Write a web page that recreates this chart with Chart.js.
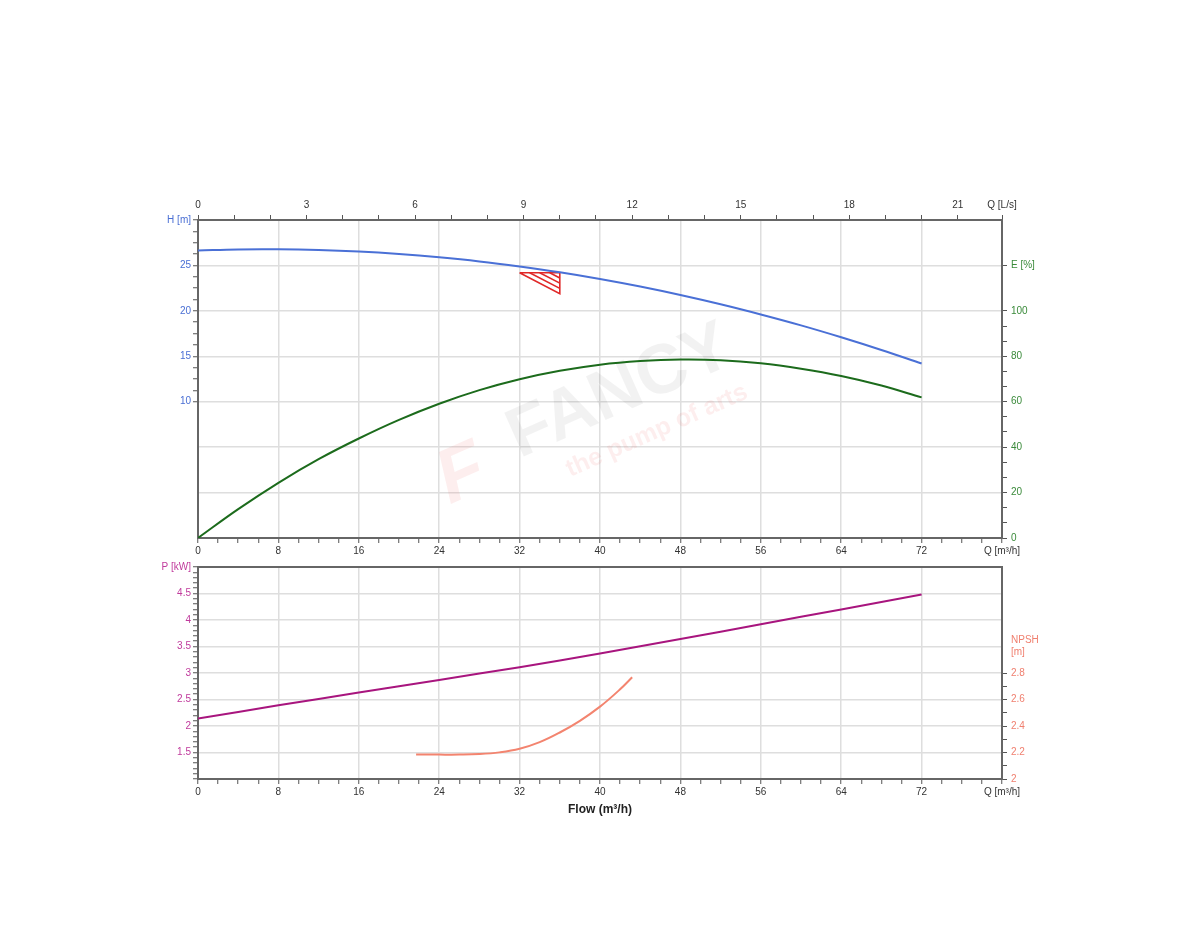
<!DOCTYPE html>
<html><head><meta charset="utf-8">
<script src="https://cdn.jsdelivr.net/npm/chart.js@4/dist/chart.umd.min.js"></script>
<style>
html,body{margin:0;padding:0;background:#fff;}
#wrap{position:relative;width:1200px;height:950px;}
canvas{position:absolute;left:0;top:0;}
</style>
</head><body>
<div id="wrap"><canvas id="c1" width="1200" height="950"></canvas><canvas id="c2" width="1200" height="950"></canvas></div>
<script>
// ---- data ----
const flowQ  = [0,4,8,12,16,20,24,28,32,36,40,44,48,52,56,60,64,68,72];          // m³/h
const headH  = [26.65,26.76,26.77,26.69,26.52,26.25,25.89,25.44,24.88,24.24,23.5,22.67,21.74,20.72,19.6,18.4,17.09,15.69,14.2]; // m
const effE   = [0,12.7,24.3,34.7,43.8,52.0,59.1,65.1,69.9,73.6,76.3,77.9,78.6,78.3,76.9,74.5,71.3,67.1,61.9]; // %
const powerQ = [0,8,16,24,32,40,48,56,64,72];
const powerP = [2.14,2.39,2.63,2.87,3.11,3.37,3.64,3.92,4.2,4.48];              // kW
const npshQ  = [21.7,24,26,28,30,32,34,36,38,40,42,43.2];
const npshV  = [2.185,2.184,2.184,2.188,2.201,2.228,2.278,2.351,2.439,2.546,2.677,2.768]; // m
const dutyQ  = [32,36,36,32];
const dutyH  = [24.2,24.2,21.9,24.2];
const hatchQ = [33,36,null,34,36,null,35,36];
const hatchH = [24.2,22.475,null,24.2,23.05,null,24.2,23.625];
// tick labels
const flowLabels = [0,8,16,24,32,40,48,56,64,72];
const lsLabels   = [0,3,6,9,12,15,18,21];
const hLabels    = [10,15,20,25];
const eLabels    = [0,20,40,60,80,100];
const pLabels    = [1.5,2,2.5,3,3.5,4,4.5];
const npshLabels = [2,2.2,2.4,2.6,2.8];

const FONT = "'Liberation Sans', Arial, sans-serif";
Chart.defaults.font.family = FONT;
Chart.defaults.font.size = 10;

function range(a,b,s){const r=[];for(let i=0;a+i*s<=b+1e-9;i++)r.push(+(a+i*s).toFixed(6));return r;}
function has(arr,v){return arr.some(a=>Math.abs(a-v)<1e-6);}
function setTicks(vals){return s=>{s.ticks=vals.map(v=>({value:v}));};}
const GRID='#dedede', NONE='rgba(0,0,0,0)', TICK='#555', BORDER={color:'#666',width:2};
const pts=(xs,ys)=>xs.map((x,i)=>({x:x,y:ys[i]}));

function flowAxis(withTitle,h){
  return {type:'linear',position:'bottom',min:0,max:80,
    afterBuildTicks:setTicks(range(0,80,2)),
    afterFit:s=>{s.height=h;},
    ticks:{autoSkip:false,maxRotation:0,padding:2,color:'#333',
      callback:v=>Math.abs(v-80)<1e-6?'Q [m³/h]':(has(flowLabels,v)?String(v):'')},
    grid:{color:c=>has(flowLabels,c.tick.value)?GRID:NONE,lineWidth:1.5,tickLength:5,tickColor:TICK,tickWidth:1},
    border:BORDER,
    title:{display:withTitle,text:'Flow (m³/h)',color:'#222',font:{size:12,weight:'bold'},padding:{top:4,bottom:4}}
  };
}

const watermark={id:'wm',beforeDatasetsDraw(chart){
  const c=chart.ctx, x=chart.scales.x, e=chart.scales.e;
  c.save();
  c.translate(x.getPixelForValue(42),e.getPixelForValue(64));
  c.rotate(-24*Math.PI/180);
  c.textAlign='center';c.textBaseline='middle';
  c.fillStyle='rgba(0,0,0,0.05)';
  c.font="bold 70px "+FONT;
  c.fillText('FANCY',0,0);
  c.fillStyle='rgba(230,70,70,0.09)';
  c.font="bold 25px "+FONT;
  c.fillText('the pump of arts',18,50);
  c.font="bold italic 76px "+FONT;
  c.fillText('F',-178,12);
  c.restore();
}};

new Chart(document.getElementById('c1'),{
  type:'line',
  data:{datasets:[
    {data:pts(flowQ,headH),xAxisID:'x',yAxisID:'h',borderColor:'#4a70d6',borderWidth:2,pointRadius:0,tension:0.4},
    {data:pts(flowQ,effE),xAxisID:'x',yAxisID:'e',borderColor:'#1c6b1c',borderWidth:2,pointRadius:0,tension:0.4},
    {data:pts(dutyQ,dutyH),xAxisID:'x',yAxisID:'h',borderColor:'#e02828',borderWidth:1.6,pointRadius:0,tension:0},
    {data:pts(hatchQ,hatchH),xAxisID:'x',yAxisID:'h',borderColor:'#e02828',borderWidth:1.6,pointRadius:0,tension:0,spanGaps:false}
  ]},
  options:{responsive:false,animation:false,devicePixelRatio:1,
    layout:{padding:{left:148,right:138,top:190,bottom:390}},
    plugins:{legend:{display:false},tooltip:{enabled:false}},
    scales:{
      x:flowAxis(false,22),
      xt:{type:'linear',position:'top',min:0,max:80/3.6,
        afterBuildTicks:setTicks(range(0,21,1).concat([80/3.6])),
        afterFit:s=>{s.height=30;},
        ticks:{autoSkip:false,maxRotation:0,padding:4,color:'#333',
          callback:v=>v>22.1?'Q [L/s]':(has(lsLabels,v)?String(v):'')},
        grid:{drawOnChartArea:false,tickLength:5,tickColor:TICK,tickWidth:1},
        border:BORDER},
      h:{type:'linear',position:'left',min:-5,max:30,
        afterBuildTicks:setTicks(range(-5,5,5).concat(range(10,30,1.25))),
        afterFit:s=>{s.width=50;},
        ticks:{autoSkip:false,padding:2,color:'#4a6fd4',
          callback:v=>Math.abs(v-30)<1e-6?'H [m]':(has(hLabels,v)?String(v):'')},
        grid:{color:c=>(Math.abs(c.tick.value/5-Math.round(c.tick.value/5))<1e-6)?GRID:NONE,lineWidth:1.5,tickLength:5,
          tickColor:c=>c.tick.value<10?NONE:TICK,tickWidth:1},
        border:BORDER},
      e:{type:'linear',position:'right',min:0,max:140,
        afterBuildTicks:setTicks(range(0,100,20/3).concat([120,140])),
        afterFit:s=>{s.width=60;},
        ticks:{autoSkip:false,padding:4,color:'#3a8a3a',
          callback:v=>Math.abs(v-120)<1e-6?'E [%]':(has(eLabels,v)?String(v):'')},
        grid:{drawOnChartArea:false,tickLength:5,tickColor:c=>c.tick.value>130?NONE:TICK,tickWidth:1},
        border:BORDER}
    }
  },
  plugins:[watermark]
});

new Chart(document.getElementById('c2'),{
  type:'line',
  data:{datasets:[
    {data:pts(powerQ,powerP),xAxisID:'x',yAxisID:'p',borderColor:'#a8157e',borderWidth:2,pointRadius:0,tension:0.4},
    {data:pts(npshQ,npshV),xAxisID:'x',yAxisID:'n',borderColor:'#f3846f',borderWidth:2,pointRadius:0,tension:0.4}
  ]},
  options:{responsive:false,animation:false,devicePixelRatio:1,
    layout:{padding:{left:148,right:138,top:567,bottom:129}},
    plugins:{legend:{display:false},tooltip:{enabled:false}},
    scales:{
      x:flowAxis(true,42),
      xt:{type:'linear',position:'top',min:0,max:80,afterFit:s=>{s.height=0;},
        ticks:{display:false},grid:{drawOnChartArea:false,drawTicks:false},border:BORDER},
      p:{type:'linear',position:'left',min:1,max:5,
        afterBuildTicks:setTicks(range(1,5,0.1)),
        afterFit:s=>{s.width=50;},
        ticks:{autoSkip:false,padding:2,color:'#c03a9c',
          callback:v=>Math.abs(v-5)<1e-6?'P [kW]':(has(pLabels,v)?String(v):'')},
        grid:{color:c=>(Math.abs(c.tick.value*2-Math.round(c.tick.value*2))<1e-6)?GRID:NONE,lineWidth:1.5,tickLength:5,tickColor:TICK,tickWidth:1},
        border:BORDER},
      n:{type:'linear',position:'right',min:2,max:3.6,
        afterBuildTicks:setTicks(range(2,2.8,0.1).concat([3.0,3.6])),
        afterFit:s=>{s.width=60;},
        ticks:{autoSkip:false,padding:4,color:'#f08070',
          callback:v=>Math.abs(v-3)<1e-6?['NPSH','[m]']:(has(npshLabels,v)?String(v):'')},
        grid:{drawOnChartArea:false,tickLength:5,tickColor:c=>c.tick.value>2.85?NONE:TICK,tickWidth:1},
        border:BORDER}
    }
  }
});
</script>
</body></html>
